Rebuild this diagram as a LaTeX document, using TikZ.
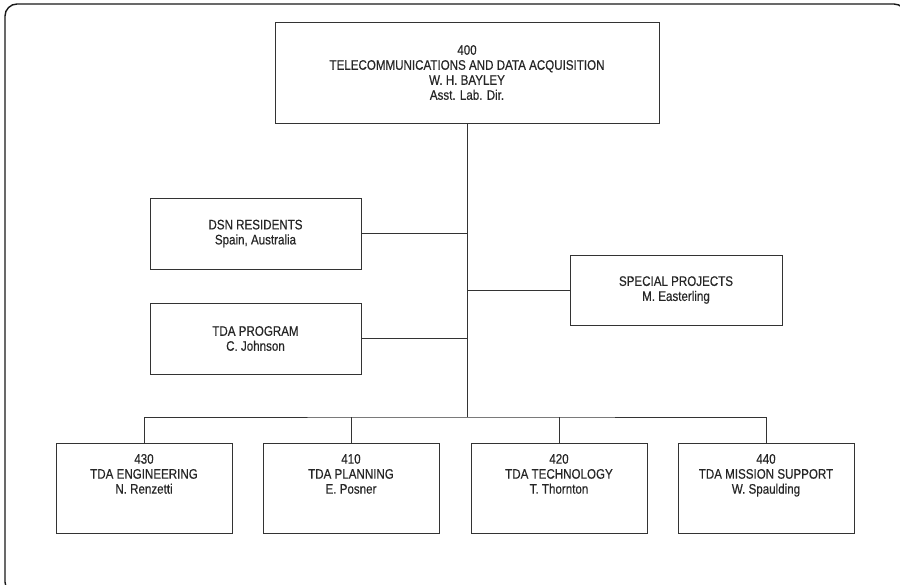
\documentclass[tikz,border=0pt]{standalone}
\usepackage{fontspec}
\setmainfont[FakeStretch=0.84,FakeBold=0.4]{Liberation Sans}
\usepackage{tikz}

\begin{document}
\begin{tikzpicture}[x=1pt,y=-1pt,
  every node/.style={font=\fontsize{13.8}{15}\selectfont, align=center, text=black!85},
  box/.style={draw=black!80, line width=1pt, inner sep=0pt},
  unit/.style={box, minimum width=176pt, minimum height=90pt},
  link/.style={draw=black!80, line width=1pt}]
\useasboundingbox (0,0) rectangle (900,584);
\clip (0,0) rectangle (900,584);
\draw[black!90, line width=1.4pt, rounded corners=12pt] (5,4) rectangle (906,594);
%
\node[box, minimum width=384pt, minimum height=101pt] (lab) at (467,72.5){400\\TELECOMMUNICATIONS AND DATA ACQUISITION\\W. H. BAYLEY\\Asst. Lab. Dir.};
\node[box, minimum width=211pt, minimum height=71pt] (dsn) at (255.5,233.5){DSN RESIDENTS\\Spain, Australia};
\node[box, minimum width=211pt, minimum height=71pt] (prog) at (255.5,338.5){TDA PROGRAM\\C. Johnson};
\node[box, minimum width=212pt, minimum height=70pt] (spec) at (676,290){SPECIAL PROJECTS\\M. Easterling};
\coordinate (bus) at (467,417);
%
\node[unit, label={[anchor=north,yshift=-8pt]north:430\\TDA ENGINEERING\\N. Renzetti}] (eng) at (144,488){};
\node[unit, label={[anchor=north,yshift=-8pt]north:410\\TDA PLANNING\\E. Posner}] (plan) at (351,488){};
\node[unit, label={[anchor=north,yshift=-8pt]north:420\\TDA TECHNOLOGY\\T. Thornton}] (tech) at (559,488){};
\node[unit, label={[anchor=north,yshift=-8pt]north:440\\TDA MISSION SUPPORT\\W. Spaulding}] (supp) at (766,488){};
%
\draw[link] (lab.south)--(bus);
\draw[link] (dsn.east)--(dsn.east -| lab.south);
\draw[link] (prog.east)--(prog.east -| lab.south);
\draw[link] (spec.west)--(spec.west -| lab.south);
\draw[link] (eng.north) |- (bus) -| (supp.north);
\draw[link] (plan.north)--(plan.north |- bus);
\draw[link] (tech.north)--(tech.north |- bus);
\end{tikzpicture}
\end{document}
